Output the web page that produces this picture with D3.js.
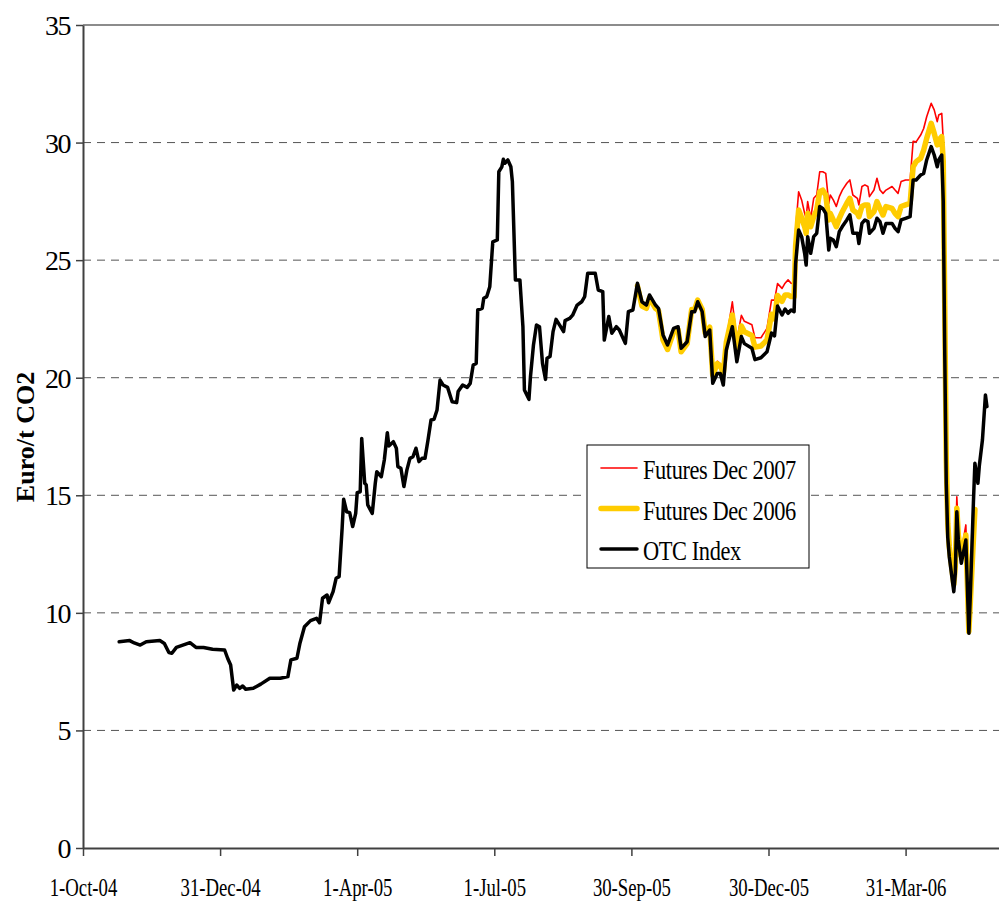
<!DOCTYPE html>
<html>
<head>
<meta charset="utf-8">
<script src="https://cdn.jsdelivr.net/npm/d3@7"></script>
<style>
body { margin: 0; background: #fff; }
svg { display: block; font-family: "Liberation Serif", "Times New Roman", serif; }
</style>
</head>
<body>
<script>
// OTC index, daily-ish readings
var otcDates = [
  "2004-10-25",
  "2004-11-01","2004-11-04","2004-11-08","2004-11-12","2004-11-21","2004-11-24","2004-11-27","2004-11-29",
  "2004-12-02","2004-12-11","2004-12-15","2004-12-20","2004-12-26",
  "2005-01-03","2005-01-05","2005-01-07","2005-01-09","2005-01-11","2005-01-13","2005-01-15","2005-01-17","2005-01-22","2005-01-27",
  "2005-02-02","2005-02-09","2005-02-14","2005-02-16","2005-02-20","2005-02-22","2005-02-25",
  "2005-03-01","2005-03-05","2005-03-07","2005-03-09","2005-03-12","2005-03-13","2005-03-16","2005-03-18","2005-03-20","2005-03-22","2005-03-23","2005-03-25","2005-03-27","2005-03-29","2005-03-31",
  "2005-04-01","2005-04-03","2005-04-04","2005-04-06","2005-04-07","2005-04-08","2005-04-11","2005-04-13","2005-04-14","2005-04-17","2005-04-19","2005-04-21","2005-04-22","2005-04-25","2005-04-27","2005-04-28","2005-04-30",
  "2005-05-02","2005-05-04","2005-05-06","2005-05-08","2005-05-10","2005-05-12","2005-05-14","2005-05-16","2005-05-18","2005-05-20","2005-05-22","2005-05-24","2005-05-26","2005-05-28","2005-05-31",
  "2005-06-03","2005-06-06","2005-06-07","2005-06-10","2005-06-13","2005-06-15","2005-06-17","2005-06-19","2005-06-20","2005-06-23","2005-06-24","2005-06-26","2005-06-28","2005-06-30",
  "2005-07-03","2005-07-04","2005-07-06","2005-07-07","2005-07-08","2005-07-10","2005-07-12","2005-07-13","2005-07-15","2005-07-18","2005-07-20","2005-07-21","2005-07-24","2005-07-25","2005-07-27","2005-07-29","2005-07-31",
  "2005-08-02","2005-08-04","2005-08-05","2005-08-07","2005-08-09","2005-08-11","2005-08-14","2005-08-16","2005-08-17","2005-08-20","2005-08-22","2005-08-25","2005-08-28","2005-08-30",
  "2005-09-01","2005-09-06","2005-09-08","2005-09-11","2005-09-12","2005-09-15","2005-09-17","2005-09-20","2005-09-22","2005-09-26","2005-09-28",
  "2005-10-01","2005-10-04","2005-10-07","2005-10-10","2005-10-12","2005-10-16","2005-10-18","2005-10-21","2005-10-24","2005-10-28","2005-10-31",
  "2005-11-02","2005-11-06","2005-11-09","2005-11-11","2005-11-13","2005-11-16","2005-11-18","2005-11-21","2005-11-23","2005-11-26","2005-11-28","2005-11-30",
  "2005-12-02","2005-12-06","2005-12-09","2005-12-12","2005-12-14","2005-12-19","2005-12-21","2005-12-25","2005-12-29",
  "2006-01-01","2006-01-03","2006-01-05","2006-01-08","2006-01-10","2006-01-12","2006-01-14","2006-01-16","2006-01-17","2006-01-19","2006-01-21","2006-01-23","2006-01-24","2006-01-25","2006-01-27","2006-01-29","2006-01-31",
  "2006-02-02","2006-02-04","2006-02-06","2006-02-08","2006-02-09","2006-02-11","2006-02-13","2006-02-15","2006-02-17","2006-02-20","2006-02-22","2006-02-24","2006-02-27","2006-02-28",
  "2006-03-02","2006-03-04","2006-03-06","2006-03-07","2006-03-10","2006-03-12","2006-03-14","2006-03-16","2006-03-18","2006-03-22","2006-03-24","2006-03-26","2006-03-28","2006-03-31",
  "2006-04-03","2006-04-05","2006-04-07","2006-04-10","2006-04-12","2006-04-14","2006-04-17","2006-04-19","2006-04-21","2006-04-22","2006-04-24","2006-04-25","2006-04-26","2006-04-27","2006-04-28","2006-04-29",
  "2006-05-02","2006-05-03","2006-05-04","2006-05-05","2006-05-07","2006-05-10","2006-05-12","2006-05-13","2006-05-15","2006-05-16","2006-05-18","2006-05-19","2006-05-21","2006-05-23","2006-05-24"
];
var otcValues = [
  8.77,
  8.82,8.72,8.63,8.77,8.82,8.70,8.31,8.28,
  8.53,8.73,8.53,8.53,8.45,
  8.42,8.07,7.78,6.72,6.93,6.79,6.89,6.75,6.79,6.97,
  7.22,7.22,7.29,8.00,8.07,8.71,9.41,
  9.67,9.77,9.58,10.62,10.76,10.43,10.90,11.47,11.54,13.60,14.83,14.30,14.26,13.67,14.23,
  15.11,15.15,17.42,15.51,15.44,14.59,14.23,15.51,16.00,15.79,16.50,17.66,17.10,17.28,17.00,16.22,16.15,
  15.37,16.08,16.57,16.64,17.00,16.43,16.57,16.57,17.35,18.20,18.23,18.63,19.90,19.69,19.59,
  18.98,18.94,19.41,19.69,19.59,19.76,20.54,20.61,22.88,22.95,23.38,23.45,23.87,25.78,
  25.86,28.76,28.97,29.29,29.12,29.26,28.97,28.34,24.16,24.16,22.17,19.48,19.08,20.04,21.39,22.24,22.17,
  20.61,19.93,20.83,20.90,21.96,22.48,22.17,21.96,22.43,22.52,22.66,23.09,23.23,23.45,
  24.44,24.44,23.73,23.66,21.60,22.60,21.89,22.17,22.03,21.46,22.81,
  22.88,24.02,23.23,23.09,23.52,23.09,22.95,21.82,21.39,22.10,22.17,
  21.25,21.53,22.81,22.81,23.23,22.81,21.75,22.03,19.76,20.18,20.18,19.69,
  21.18,22.17,20.68,21.75,21.45,21.25,20.77,20.85,21.10,
  21.90,21.78,23.05,22.67,22.92,22.74,22.88,22.81,24.85,26.28,26.00,25.29,24.79,26.00,25.29,26.00,26.14,
  27.28,27.20,26.99,25.43,25.93,25.86,25.57,26.21,26.43,26.71,26.93,26.14,26.14,25.71,
  26.56,26.71,26.64,26.14,26.35,26.78,26.64,26.14,26.56,26.56,26.35,26.21,26.71,26.78,
  26.85,28.41,28.41,28.62,28.69,29.26,29.83,29.47,28.97,29.26,29.47,27.50,21.00,15.50,13.20,12.39,
  10.90,11.68,14.30,13.10,12.11,13.10,9.13,10.83,14.66,16.36,15.51,16.29,17.35,19.27,18.77
];

// futures, from October 2005
var futDates = [
  "2005-10-04","2005-10-07","2005-10-10","2005-10-12","2005-10-16","2005-10-18","2005-10-21","2005-10-24","2005-10-28","2005-10-31",
  "2005-11-02","2005-11-06","2005-11-09","2005-11-11","2005-11-13","2005-11-16","2005-11-18","2005-11-21","2005-11-23","2005-11-26","2005-11-28","2005-11-30",
  "2005-12-02","2005-12-06","2005-12-09","2005-12-12","2005-12-14","2005-12-19","2005-12-21","2005-12-25","2005-12-29",
  "2006-01-01","2006-01-03","2006-01-05","2006-01-08","2006-01-10","2006-01-12","2006-01-14","2006-01-16","2006-01-17","2006-01-19","2006-01-21","2006-01-23","2006-01-24","2006-01-25","2006-01-27","2006-01-29","2006-01-31",
  "2006-02-02","2006-02-04","2006-02-06","2006-02-08","2006-02-09","2006-02-11","2006-02-13","2006-02-15","2006-02-17","2006-02-20","2006-02-22","2006-02-24","2006-02-27","2006-02-28",
  "2006-03-02","2006-03-04","2006-03-06","2006-03-07","2006-03-10","2006-03-12","2006-03-14","2006-03-16","2006-03-18","2006-03-22","2006-03-24","2006-03-26","2006-03-28","2006-03-31",
  "2006-04-03","2006-04-05","2006-04-07","2006-04-10","2006-04-12","2006-04-14","2006-04-17","2006-04-19","2006-04-21","2006-04-22","2006-04-24","2006-04-25","2006-04-26","2006-04-27","2006-04-28","2006-04-29",
  "2006-05-02","2006-05-03","2006-05-04","2006-05-05","2006-05-07","2006-05-10","2006-05-12","2006-05-13","2006-05-16"
];
var futDec2006 = [
  23.90,23.05,22.95,23.40,22.95,22.85,21.60,21.20,21.95,22.05,
  21.10,21.45,22.90,22.90,23.30,22.90,21.90,22.15,20.10,20.60,20.50,20.20,
  21.50,22.67,21.15,22.20,21.95,21.80,21.30,21.35,21.60,
  22.70,22.50,23.50,23.25,23.52,23.52,23.45,23.45,25.60,27.13,26.80,26.42,26.14,26.99,26.42,26.85,27.13,
  27.91,27.98,27.77,26.71,26.99,26.71,26.42,26.78,27.06,27.42,27.63,27.13,26.99,26.85,
  27.28,27.35,27.35,26.85,27.06,27.49,27.20,26.92,27.28,27.20,26.99,26.85,27.28,27.35,
  27.42,28.97,29.19,29.33,29.68,30.18,30.82,30.39,29.90,30.11,30.25,29.20,23.00,16.50,13.80,12.80,
  11.20,12.00,14.45,13.30,12.40,13.31,9.20,10.50,14.40
];
var futDec2007 = [
  23.95,23.10,23.00,23.45,23.00,22.90,21.65,21.25,22.00,22.10,
  21.15,21.50,22.95,22.95,23.35,22.95,21.95,22.20,20.20,20.70,20.60,20.30,
  21.60,23.23,21.60,22.65,22.40,22.25,21.70,21.70,22.10,
  23.30,23.30,24.00,23.80,24.02,24.16,24.02,24.00,26.30,27.91,27.56,26.99,26.78,27.49,26.78,27.63,27.77,
  28.76,28.76,28.69,27.42,27.77,27.56,27.28,27.70,27.98,28.27,28.41,27.77,27.63,27.35,
  28.13,28.20,28.13,27.70,27.98,28.48,27.98,27.84,27.98,28.13,27.98,27.84,28.34,28.41,
  28.41,30.05,30.03,30.32,30.60,31.10,31.67,31.39,30.89,31.17,31.24,30.10,23.60,17.00,14.00,13.00,
  11.30,12.10,14.94,13.60,12.60,13.74,9.25,10.55,14.45
];

var yTicks = [0, 5, 10, 15, 20, 25, 30, 35];
var xTickDates = ["2004-10-01", "2004-12-31", "2005-04-01", "2005-07-01", "2005-09-30", "2005-12-30", "2006-03-31"];
var xStart = "2004-10-01", xEnd = "2006-06-01";
var legendNames = ["Futures Dec 2007", "Futures Dec 2006", "OTC Index"];

// layout
var W = 999, H = 901;
var margin = {top: 25, left: 83, bottom: 53};
var width = W - margin.left,
    height = H - margin.top - margin.bottom;

var parse = d3.timeParse("%Y-%m-%d");
var fmt = d3.timeFormat("%-d-%b-%y");

var x = d3.scaleTime()
    .domain([parse(xStart), parse(xEnd)])
    .range([0, width]);
var y = d3.scaleLinear()
    .domain([0, 35])
    .range([height, 0]);

var svg = d3.select("body").append("svg")
    .attr("width", W)
    .attr("height", H);
var g = svg.append("g")
    .attr("transform", "translate(" + margin.left + "," + margin.top + ")");

// dashed gridlines, top one solid
g.selectAll(".grid")
    .data(yTicks.filter(function(d) { return d > 0; }))
    .enter().append("line")
    .attr("x1", 0).attr("x2", width)
    .attr("y1", function(d) { return y(d); })
    .attr("y2", function(d) { return y(d); })
    .attr("stroke", function(d) { return d === 35 ? "#8c8c8c" : "#555"; })
    .attr("stroke-width", function(d) { return d === 35 ? 2 : 1; })
    .attr("stroke-dasharray", function(d) { return d === 35 ? null : "8,6"; });

// series
function zip(dates, vals) {
  return dates.map(function(d, i) { return {date: parse(d), value: vals[i]}; });
}
var line = d3.line()
    .x(function(d) { return x(d.date); })
    .y(function(d) { return y(d.value); });

var series = [
  {data: zip(futDates, futDec2007), color: "#ff0000", w: 1.6},
  {data: zip(futDates, futDec2006), color: "#ffcc00", w: 5.5},
  {data: zip(otcDates, otcValues), color: "#000000", w: 3.5}
];
g.selectAll(".series")
    .data(series)
    .enter().append("path")
    .attr("class", "series")
    .attr("fill", "none")
    .attr("stroke", function(d) { return d.color; })
    .attr("stroke-width", function(d) { return d.w; })
    .attr("stroke-linejoin", "round")
    .attr("stroke-linecap", "round")
    .attr("d", function(d) { return line(d.data); });

// axes
var yAxis = g.append("g")
    .call(d3.axisLeft(y).tickValues(yTicks).tickSize(7).tickSizeOuter(0).tickPadding(6));
var xAxis = g.append("g")
    .attr("transform", "translate(0," + height + ")")
    .call(d3.axisBottom(x).tickValues(xTickDates.map(parse)).tickFormat(fmt)
        .tickSize(8).tickSizeOuter(0).tickPadding(22));

[yAxis, xAxis].forEach(function(a) {
  a.select(".domain").attr("stroke", "#404040").attr("stroke-width", 2);
  a.selectAll(".tick line").attr("stroke", "#404040").attr("stroke-width", 1.5);
  a.selectAll("text").attr("fill", "#000").attr("font-family", "Liberation Serif, serif");
});
yAxis.selectAll("text")
    .attr("font-size", 28)
    .attr("letter-spacing", "-1.5px")
    .attr("dy", "0.34em");
xAxis.selectAll("text")
    .attr("font-size", 25)
    .attr("dy", "0.71em")
    .attr("transform", "scale(0.75,1)");

// y title
svg.append("text")
    .attr("transform", "translate(34,437) rotate(-90)")
    .attr("text-anchor", "middle")
    .attr("font-size", 26)
    .attr("font-weight", "bold")
    .text("Euro/t CO2");

// legend
var lg = svg.append("g").attr("transform", "translate(587,445)");
lg.append("rect")
    .attr("width", 222).attr("height", 123)
    .attr("fill", "#fff").attr("stroke", "#000").attr("stroke-width", 1);
var item = lg.selectAll(".item")
    .data(series.map(function(s, i) { return {name: legendNames[i], color: s.color, w: s.w}; }))
    .enter().append("g")
    .attr("transform", function(d, i) { return "translate(0," + (23 + i * 40.5) + ")"; });
item.append("line")
    .attr("x1", 14).attr("x2", 50)
    .attr("stroke", function(d) { return d.color; })
    .attr("stroke-width", function(d) { return d.w; })
    .attr("stroke-linecap", "round");
item.append("text")
    .attr("transform", "translate(56,11) scale(0.8,1)")
    .attr("font-size", 28)
    .attr("letter-spacing", "-0.5px")
    .text(function(d) { return d.name; });
</script>
</body>
</html>
